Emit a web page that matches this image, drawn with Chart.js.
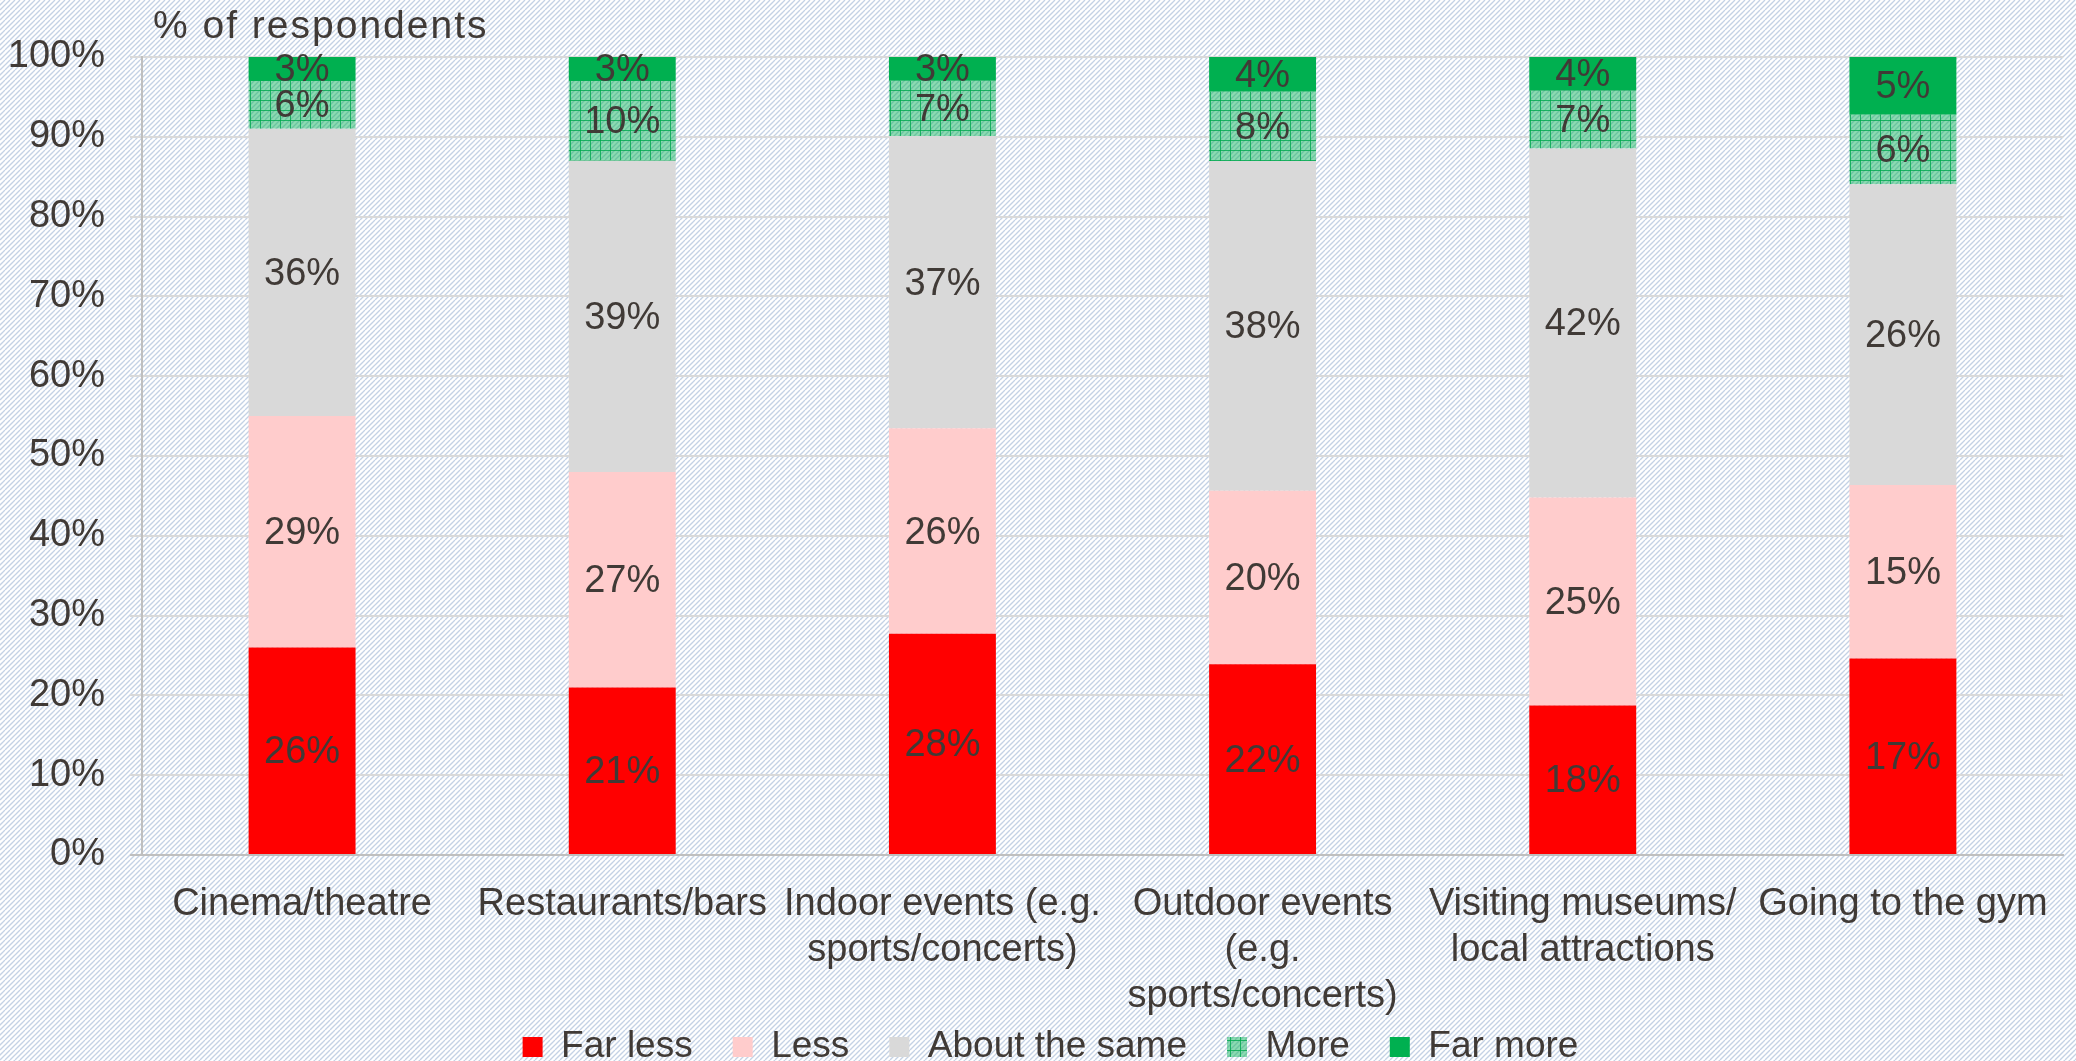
<!DOCTYPE html>
<html>
<head>
<meta charset="utf-8">
<script src="https://cdn.jsdelivr.net/npm/chart.js@4.4.1/dist/chart.umd.min.js"></script>
<style>
  html, body { margin: 0; padding: 0; background: #fff; }
</style>
</head>
<body>
<canvas id="chart" width="2076" height="1061"></canvas>
<script>
// ── data ─────────────────────────────────────
const categories = [
  'Cinema/theatre',
  'Restaurants/bars',
  ['Indoor events (e.g.', 'sports/concerts)'],
  ['Outdoor events', '(e.g.', 'sports/concerts)'],
  ['Visiting museums/', 'local attractions'],
  'Going to the gym'
];
const seriesNames = ['Far less', 'Less', 'About the same', 'More', 'Far more'];

const farLess  = [26, 21, 28, 22, 18, 17];
const less     = [29, 27, 26, 20, 25, 15];
const same     = [36, 39, 37, 38, 42, 26];
const more     = [ 6, 10,  7,  8,  7,  6];
const farMore  = [ 3,  3,  3,  4,  4,  5];

const yTicks = [0, 10, 20, 30, 40, 50, 60, 70, 80, 90, 100];

const FONT = '"Liberation Sans", Arial, sans-serif';
const TEXT = '#403a36';

// ── patterns ─────────────────────────────────
const canvas = document.getElementById('chart');
const ctx = canvas.getContext('2d');

function hatchTile(tint) {
  const c = document.createElement('canvas');
  c.width = 10; c.height = 10;
  const g = c.getContext('2d');
  g.fillStyle = '#ffffff';
  g.fillRect(0, 0, 10, 10);
  g.strokeStyle = '#c4d2e5';
  g.lineWidth = 1.3;
  for (let x0 = -10; x0 <= 10; x0 += 5) {
    g.beginPath(); g.moveTo(x0, 10); g.lineTo(x0 + 10, 0); g.stroke();
  }
  if (tint) {
    g.fillStyle = tint;
    g.fillRect(0, 0, 10, 10);
    g.fillStyle = 'rgba(0,168,78,0.8)';
    g.fillRect(0, 0, 10, 1);
    g.fillRect(0, 0, 1, 10);
  }
  return ctx.createPattern(c, 'repeat');
}

const bgHatch   = hatchTile(null);
const moreGrid  = hatchTile('rgba(0,176,80,0.45)');

const colors = ['#ff0000', '#ffcccc', '#d9d9d9', moreGrid, '#00b050'];
const series = [farLess, less, same, more, farMore];

// each bar is scaled to 100% of its own total
const totals = categories.map((_, i) => series.reduce((s, arr) => s + arr[i], 0));

const datasets = series.map((arr, k) => ({
  label: seriesNames[k],
  data: arr.map((v, i) => v / totals[i] * 100),
  shown: arr,
  backgroundColor: colors[k],
  borderWidth: 0,
  barPercentage: 0.334,
  categoryPercentage: 1
}));

// ── plugins ──────────────────────────────────
const background = {
  id: 'background',
  beforeDraw(chart) {
    const c = chart.ctx;
    c.save();
    c.fillStyle = bgHatch;
    c.fillRect(0, 0, chart.width, chart.height);
    c.fillStyle = TEXT;
    c.font = '39px ' + FONT;
    c.letterSpacing = '2px';
    c.textAlign = 'left';
    c.textBaseline = 'middle';
    c.fillText('% of respondents', chart.chartArea.left + 11, 27);
    c.restore();
  }
};

const segmentLabels = {
  id: 'segmentLabels',
  afterDatasetsDraw(chart) {
    const c = chart.ctx;
    c.save();
    c.font = '38px ' + FONT;
    c.fillStyle = TEXT;
    c.textAlign = 'center';
    c.textBaseline = 'middle';
    chart.data.datasets.forEach((ds, di) => {
      chart.getDatasetMeta(di).data.forEach((bar, i) => {
        const { x, y, base } = bar.getProps(['x', 'y', 'base'], true);
        c.fillText(ds.shown[i] + '%', x, (y + base) / 2 + 2);
      });
    });
    c.restore();
  }
};

// tick labels may run outside their scale box (3-line category, left padding)
const noLabelClip = s => { s._computeLabelArea = () => undefined; };

new Chart(ctx, {
  type: 'bar',
  data: { labels: categories, datasets },
  plugins: [background, segmentLabels],
  options: {
    responsive: false,
    animation: false,
    layout: { padding: { top: 57, right: 13, bottom: -14.5, left: 38 } },
    plugins: {
      title: { display: false },
      tooltip: { enabled: false },
      legend: {
        position: 'bottom',
        labels: {
          color: TEXT,
          font: { family: FONT, size: 37 },
          boxWidth: 20, boxHeight: 20,
          padding: 40
        }
      }
    },
    scales: {
      x: {
        stacked: true,
        grid: { display: false, drawTicks: false },
        border: { color: '#bfbfbf', width: 2 },
        ticks: {
          color: TEXT,
          font: { family: FONT, size: 38, lineHeight: 1.21 },
          padding: 27,
          maxRotation: 0,
          autoSkip: false
        },
        afterFit: s => { s.height = 133.5; noLabelClip(s); }
      },
      y: {
        stacked: true,
        min: 0, max: 100,
        afterBuildTicks: s => { s.ticks = yTicks.map(v => ({ value: v })); },
        grid: {
          color: c => c.tick && c.tick.value === 0 ? '#bfbfbf' : '#d9d9d9',
          lineWidth: 2,
          tickLength: 12,
          tickColor: c => c.tick && c.tick.value === 0 ? '#bfbfbf' : '#d9d9d9'
        },
        border: { color: '#bfbfbf', width: 2 },
        ticks: {
          color: TEXT,
          font: { family: FONT, size: 38 },
          padding: 25,
          callback: v => v + '%'
        },
        afterFit: s => { s.width = 104; noLabelClip(s); }
      }
    }
  }
});
</script>
</body>
</html>
